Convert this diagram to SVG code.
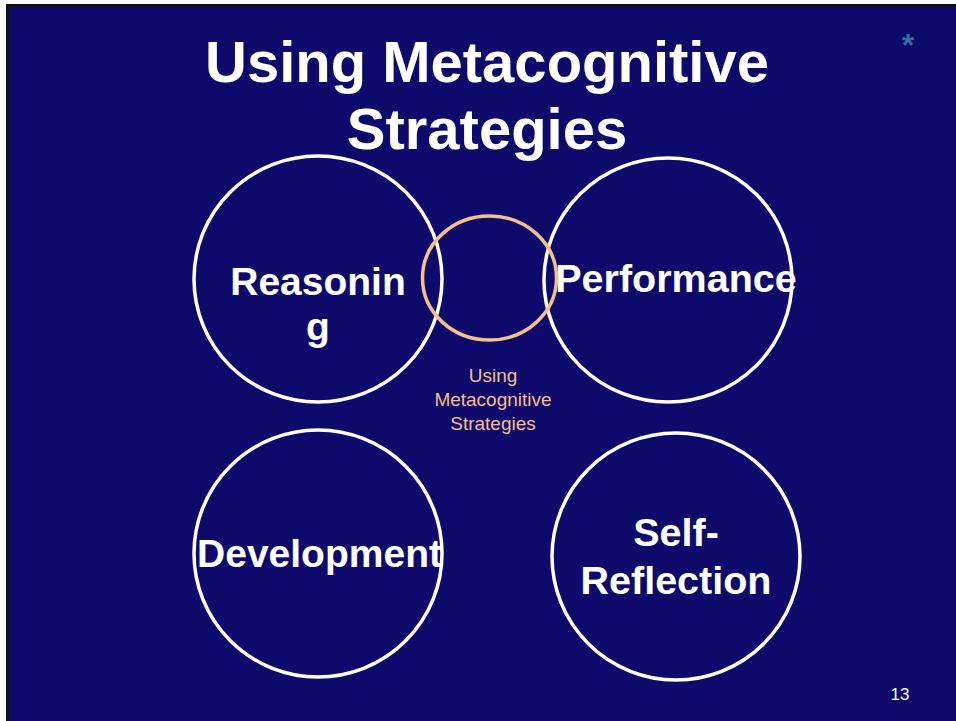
<svg xmlns="http://www.w3.org/2000/svg" width="956" height="721" viewBox="0 0 956 721">
  <style>
    .ring { fill: none; stroke: #ffffff; stroke-width: 3.5; }
    .hub { fill: none; stroke: #f6bf8c; stroke-width: 3.5; }
    .label { font-family: "Liberation Sans", Arial, sans-serif; font-weight: bold; fill: #ffffff; text-anchor: middle; }
    .title { font-family: "Liberation Sans", Arial, sans-serif; font-weight: bold; fill: #ffffff; text-anchor: middle; font-size: 58px; }
    .small { font-family: "Liberation Sans", Arial, sans-serif; fill: #f6bf8c; text-anchor: middle; font-size: 19px; }
  </style>

  <!-- slide frame -->
  <rect x="0" y="0" width="956" height="721" fill="#ffffff"/>
  <rect x="6" y="4" width="950" height="717" fill="#111111"/>
  <rect x="9" y="7" width="947" height="714" fill="#0e0a6b"/>

  <!-- heading -->
  <g id="title">
    <text class="title" x="487" y="82">Using Metacognitive</text>
    <text class="title" x="487" y="149">Strategies</text>
  </g>
  <text x="908" y="56" font-family="Liberation Sans, Arial, sans-serif" font-weight="bold" font-size="32" fill="#3d6a9c" text-anchor="middle">*</text>

  <g id="connectors"></g>

  <g id="reasoning">
    <ellipse class="ring" cx="318" cy="279" rx="124" ry="123"/>
    <text class="label" x="318" y="295" font-size="39">Reasonin</text>
    <text class="label" x="318" y="340" font-size="39">g</text>
  </g>

  <g id="performance">
    <ellipse class="ring" cx="668" cy="280" rx="124" ry="122"/>
    <text class="label" x="676" y="292" font-size="39.5">Performance</text>
  </g>

  <g id="strategies">
    <ellipse class="hub" cx="489.5" cy="278" rx="67" ry="62"/>
    <text class="small" x="493" y="382">Using</text>
    <text class="small" x="493" y="406">Metacognitive</text>
    <text class="small" x="493" y="430">Strategies</text>
  </g>

  <g id="development">
    <ellipse class="ring" cx="318" cy="553.5" rx="124" ry="123.5"/>
    <text class="label" x="319.5" y="567" font-size="39">Development</text>
  </g>

  <g id="self-reflection">
    <ellipse class="ring" cx="676" cy="556.5" rx="124" ry="123.5"/>
    <text class="label" x="676" y="546" font-size="39.5">Self-</text>
    <text class="label" x="676" y="594" font-size="39.5">Reflection</text>
  </g>

  <text x="900" y="700" font-family="Liberation Sans, Arial, sans-serif" font-size="17" fill="#ffffff" text-anchor="middle">13</text>
</svg>
